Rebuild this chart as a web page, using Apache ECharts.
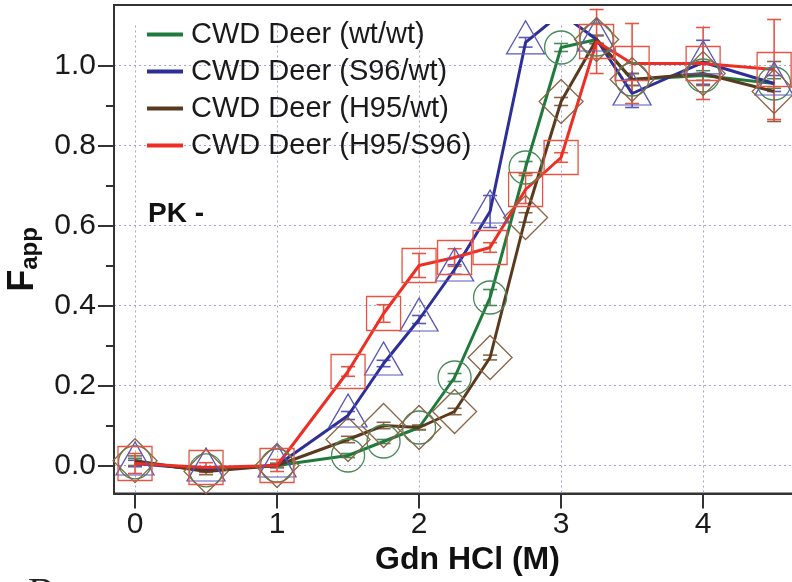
<!DOCTYPE html>
<html>
<head>
    <meta charset="utf-8">
    <title>Gdn HCl denaturation</title>
    <script src="https://cdn.jsdelivr.net/npm/echarts@6/dist/echarts.min.js"></script>
    <style>
        html, body { margin: 0; padding: 0; background: #fff; }
        #container { width: 792px; height: 582px; }
    </style>
</head>
<body>
<div id="container"></div>
<script>
    // Gdn HCl concentration (M)
    var conc = [0, 0.5, 1, 1.5, 1.75, 2, 2.25, 2.5, 2.75, 3, 3.25, 3.5, 4, 4.5];

    // Fapp for each deer genotype
    var wtwt   = [0.008, -0.012, 0.0, 0.025, 0.06, 0.095, 0.22, 0.42, 0.745, 1.045, 1.065, 0.965, 0.975, 0.955];
    var s96wt  = [0.005, -0.01, 0.0, 0.125, 0.255, 0.365, 0.49, 0.635, 1.058, 1.13, 1.065, 0.93, 1.008, 0.955];
    var h95wt  = [0.012, -0.015, 0.0, 0.065, 0.10, 0.095, 0.135, 0.27, 0.62, 0.91, 1.065, 0.965, 0.98, 0.935];
    var h95s96 = [0.005, -0.005, 0.0, 0.235, 0.38, 0.50, 0.52, 0.545, 0.69, 0.77, 1.06, 1.005, 1.005, 0.99];

    // error (+/-)
    var errWtwt   = [0.01, 0.005, 0.005, 0.005, 0.005, 0.005, 0.01, 0.02, 0.015, 0.01, 0.01, 0.015, 0.012, 0.012];
    var errS96wt  = [0.008, 0.005, 0.005, 0.01, 0.008, 0.01, 0.012, 0.04, 0.012, 0, 0.01, 0.035, 0.055, 0.02];
    var errH95wt  = [0.012, 0.008, 0.005, 0.008, 0.008, 0.006, 0.008, 0.006, 0.012, 0.01, 0.01, 0.015, 0.03, 0.075];
    var errH95s96 = [0.025, 0.012, 0.015, 0.012, 0.022, 0.03, 0.022, 0.012, 0.035, 0.012, 0.08, 0.1, 0.09, 0.125];

    var xTicks = [0, 1, 2, 3, 4];
    var yTicks = [0, 0.2, 0.4, 0.6, 0.8, 1.0];

    var names = ['CWD Deer (wt/wt)', 'CWD Deer (S96/wt)', 'CWD Deer (H95/wt)', 'CWD Deer (H95/S96)'];
    var lineColors = ['#1f7a3c', '#2e2e98', '#5a3a1e', '#ee2e24'];
    var symColors = ['#4a8a5a', '#5858bb', '#8a6646', '#e65444'];
    var symbols = ['circle', 'triangle', 'diamond', 'rect'];
    var symSizes = [33, [38, 33], 44, 34];
    var values = [wtwt, s96wt, h95wt, h95s96];
    var errs = [errWtwt, errS96wt, errH95wt, errH95s96];

    var font = 'Liberation Sans';
    var narrow = "'Liberation Sans Narrow', 'Liberation Sans', sans-serif";

    function pairs(ys) {
        return conc.map(function (x, i) { return [x, ys[i]]; });
    }

    function errData(ys, es) {
        return conc.map(function (x, i) { return [x, ys[i] - es[i], ys[i] + es[i], es[i]]; });
    }

    function renderErr(color) {
        return function (params, api) {
            if (api.value(3) === 0) return;
            var lo = api.coord([api.value(0), api.value(1)]);
            var hi = api.coord([api.value(0), api.value(2)]);
            var w = 7;
            var st = { stroke: color, lineWidth: 1.6 };
            return {
                type: 'group',
                children: [
                    { type: 'line', shape: { x1: lo[0], y1: lo[1], x2: hi[0], y2: hi[1] }, style: st },
                    { type: 'line', shape: { x1: lo[0] - w, y1: lo[1], x2: lo[0] + w, y2: lo[1] }, style: st },
                    { type: 'line', shape: { x1: hi[0] - w, y1: hi[1], x2: hi[0] + w, y2: hi[1] }, style: st }
                ]
            };
        };
    }

    var series = [];
    for (var i = 0; i < names.length; i++) {
        series.push({
            name: names[i] + ' err',
            type: 'custom',
            renderItem: renderErr(symColors[i]),
            encode: { x: 0, y: [1, 2] },
            data: errData(values[i], errs[i]),
            z: 2
        });
    }
    for (var j = 0; j < names.length; j++) {
        series.push({
            name: names[j],
            type: 'line',
            color: lineColors[j],
            data: pairs(values[j]),
            symbol: symbols[j],
            symbolSize: symSizes[j],
            symbolOffset: symbols[j] === 'triangle' ? [0, -5] : [0, 0],
            showAllSymbol: true,
            lineStyle: { width: 3, color: lineColors[j] },
            itemStyle: { color: 'rgba(0,0,0,0)', borderColor: symColors[j], borderWidth: 1.3 },
            emphasis: { disabled: true },
            animation: false,
            z: 3
        });
    }

    var myChart = echarts.init(document.getElementById('container'));

    var axisDark = { color: '#333', width: 2 };

    var option = {
        animation: false,
        backgroundColor: '#fff',
        grid: [{
            left: 114,
            right: -29,
            top: 25.5,
            bottom: 88.5,
            outerBoundsMode: 'none'
        }, {
            // outer frame, taller than the data area
            show: true,
            left: 114,
            right: -29,
            top: 5,
            bottom: 88.5,
            outerBoundsMode: 'none',
            borderColor: '#333',
            borderWidth: 2,
            backgroundColor: 'transparent'
        }],
        legend: {
            orient: 'vertical',
            left: 142,
            top: 15,
            itemWidth: 36,
            itemHeight: 4,
            itemGap: 8,
            icon: 'rect',
            textStyle: { fontFamily: font, fontSize: 29, color: '#1a1a1a', padding: [0, 0, 0, 3] },
            data: names.map(function (n, k) {
                return { name: n, itemStyle: { color: lineColors[k], borderWidth: 0 } };
            })
        },
        title: {
            text: 'PK -',
            left: 143,
            top: 195,
            textStyle: { fontFamily: font, fontSize: 28, fontWeight: 'bold', color: '#111' }
        },
        graphic: [{
            type: 'text',
            left: 28,
            top: 574,
            style: { text: 'B', font: '40px "Liberation Serif"', fill: '#222' }
        }],
        xAxis: [{
            type: 'value',
            min: -0.148,
            max: 4.83,
            minInterval: 1,
            maxInterval: 1,
            name: 'Gdn HCl (M)',
            nameLocation: 'middle',
            nameGap: 31,
            nameTextStyle: { fontFamily: font, fontSize: 32, fontWeight: 'bold', color: '#111' },
            axisLine: { show: true, onZero: false, lineStyle: axisDark },
            axisTick: { show: true, length: 15, customValues: xTicks, lineStyle: axisDark },
            axisLabel: {
                customValues: xTicks,
                margin: 16,
                fontFamily: narrow,
                fontSize: 30,
                color: '#1a1a1a'
            },
            splitLine: { show: true, lineStyle: { color: '#a3a3d6', type: [2, 3], width: 1 } }
        }, {
            gridIndex: 1, type: 'value', show: false
        }],
        yAxis: [{
            type: 'value',
            min: -0.07,
            max: 1.1,
            minInterval: 0.2,
            maxInterval: 0.2,
            name: '{f|F}{s|app}',
            nameLocation: 'middle',
            nameRotate: 90,
            nameGap: 72,
            nameTextStyle: {
                fontFamily: font,
                fontWeight: 'bold',
                color: '#111',
                rich: {
                    f: { fontFamily: font, fontSize: 36, fontWeight: 'bold', color: '#111' },
                    s: { fontFamily: font, fontSize: 24, fontWeight: 'bold', color: '#111', padding: [14, 0, 0, 0] }
                }
            },
            axisLine: { show: true, onZero: false, lineStyle: axisDark },
            axisTick: { show: true, length: 16, customValues: yTicks, lineStyle: axisDark },
            minorTick: { show: true, splitNumber: 2, length: 8, lineStyle: axisDark },
            axisLabel: {
                customValues: yTicks,
                margin: 18,
                fontFamily: narrow,
                fontSize: 30,
                color: '#1a1a1a',
                formatter: function (v) { return v.toFixed(1); }
            },
            splitLine: { show: true, lineStyle: { color: '#a3a3d6', type: [2, 3], width: 1 } }
        }, {
            gridIndex: 1, type: 'value', show: false
        }],
        series: series
    };

    myChart.setOption(option);
</script>
</body>
</html>
